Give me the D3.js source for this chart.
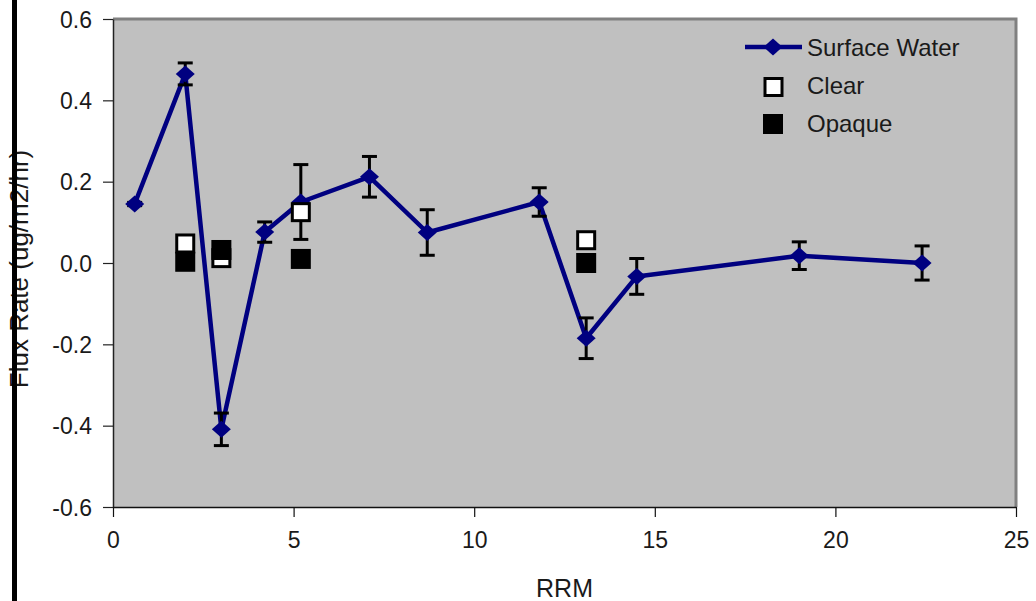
<!DOCTYPE html>
<html lang="en">
<head>
    <meta charset="UTF-8">
    <title>Flux Rate vs RRM</title>
    <style>
        body { margin: 0; background: #fff; }
        text { font-family: "Liberation Sans", Arial, sans-serif; fill: #1a1a1a; }
    </style>
    <script src="https://d3js.org/d3.v7.min.js"></script>
</head>
<body>
    <svg id="chart"></svg>

    <script>
        // Surface Water series
        const rrm = [0.6, 2.0, 3.0, 4.2, 5.2, 7.1, 8.7, 11.8, 13.1, 14.5, 19.0, 22.4];
        const surfaceWater = [0.145, 0.465, -0.409, 0.076, 0.15, 0.212, 0.075, 0.15, -0.185, -0.033, 0.018, 0.0];
        const surfaceErr = [0.004, 0.027, 0.04, 0.025, 0.092, 0.05, 0.056, 0.035, 0.05, 0.044, 0.034, 0.042];

        // Clear / Opaque series
        const clearX = [2.0, 3.0, 5.2, 13.1];
        const clearY = [0.048, 0.012, 0.125, 0.056];
        const opaqueX = [2.0, 3.0, 5.2, 13.1];
        const opaqueY = [0.003, 0.032, 0.01, 0.0];

        const xTicks = [0, 5, 10, 15, 20, 25];
        const yTicks = [-0.6, -0.4, -0.2, 0.0, 0.2, 0.4, 0.6];

        const width = 1036;
        const height = 601;
        const margin = {top: 19, right: 20, bottom: 94, left: 113};

        const svg = d3.select("#chart")
            .attr("width", width)
            .attr("height", height);

        const x = d3.scaleLinear().domain([0, 25]).range([margin.left, width - margin.right]);
        const y = d3.scaleLinear().domain([-0.6, 0.6]).range([height - margin.bottom, margin.top]);

        // plot area
        svg.append("rect")
            .attr("x", x(0)).attr("y", y(0.6))
            .attr("width", x(25) - x(0)).attr("height", y(-0.6) - y(0.6))
            .attr("fill", "#c0c0c0");

        // top and right frame
        svg.append("path")
            .attr("d", `M${x(0)},${y(0.6)}H${x(25)}V${y(-0.6)}`)
            .attr("fill", "none")
            .attr("stroke", "#808080")
            .attr("stroke-width", 3);

        // y axis
        const yAxis = svg.append("g")
            .attr("transform", `translate(${x(0)},0)`)
            .call(d3.axisLeft(y).tickValues(yTicks).tickSize(10).tickSizeOuter(0));
        yAxis.select(".domain").attr("stroke", "#222").attr("stroke-width", 1.5);
        yAxis.selectAll(".tick line").attr("stroke", "#222").attr("stroke-width", 1.2);
        yAxis.selectAll(".tick text")
            .attr("x", -21)
            .attr("dy", "0.36em")
            .attr("fill", "#1a1a1a")
            .style("font-family", "Liberation Sans, Arial, sans-serif")
            .style("font-size", "23px")
            .text(d => d3.format(".1f")(d).replace("−", "-"));

        // x axis
        const xAxis = svg.append("g")
            .attr("transform", `translate(0,${y(-0.6)})`)
            .call(d3.axisBottom(x).tickValues(xTicks).tickSize(10).tickSizeOuter(0));
        xAxis.select(".domain").attr("stroke", "#111").attr("stroke-width", 1.5);
        xAxis.selectAll(".tick line").attr("stroke", "#111").attr("stroke-width", 1.2);
        xAxis.selectAll(".tick text")
            .attr("y", 25)
            .attr("dy", "0.71em")
            .attr("fill", "#1a1a1a")
            .style("font-family", "Liberation Sans, Arial, sans-serif")
            .style("font-size", "23px");

        // axis titles
        svg.append("text")
            .attr("x", (x(0) + x(25)) / 2)
            .attr("y", 597)
            .attr("text-anchor", "middle")
            .style("font-size", "25px")
            .text("RRM");

        svg.append("text")
            .attr("transform", `translate(28,${(y(0.6) + y(-0.6)) / 2 + 6}) rotate(-90)`)
            .attr("text-anchor", "middle")
            .style("font-size", "26px")
            .text("Flux Rate (ug/m2/hr)");

        // thick black bar at the left edge
        svg.append("rect")
            .attr("x", 12).attr("y", 0)
            .attr("width", 5).attr("height", height)
            .attr("fill", "#000");

        const sw = rrm.map((r, i) => ({x: r, y: surfaceWater[i], e: surfaceErr[i]}));

        // line
        svg.append("path")
            .datum(sw)
            .attr("fill", "none")
            .attr("stroke", "#000080")
            .attr("stroke-width", 4.5)
            .attr("stroke-linejoin", "round")
            .attr("d", d3.line().x(d => x(d.x)).y(d => y(d.y)));

        // error bars
        const eb = svg.append("g")
            .attr("stroke", "#000")
            .attr("stroke-width", 3)
            .selectAll("g")
            .data(sw)
            .join("g");
        eb.append("line")
            .attr("x1", d => x(d.x)).attr("x2", d => x(d.x))
            .attr("y1", d => y(d.y + d.e)).attr("y2", d => y(d.y - d.e));
        eb.append("line")
            .attr("x1", d => x(d.x) - 7.5).attr("x2", d => x(d.x) + 7.5)
            .attr("y1", d => y(d.y + d.e)).attr("y2", d => y(d.y + d.e));
        eb.append("line")
            .attr("x1", d => x(d.x) - 7.5).attr("x2", d => x(d.x) + 7.5)
            .attr("y1", d => y(d.y - d.e)).attr("y2", d => y(d.y - d.e));

        const diamond = "M0,-8.5L9.5,0L0,8.5L-9.5,0Z";

        svg.append("g")
            .selectAll("path")
            .data(sw)
            .join("path")
            .attr("d", diamond)
            .attr("transform", d => `translate(${x(d.x)},${y(d.y)})`)
            .attr("fill", "#000080");

        // clear squares
        svg.append("g")
            .selectAll("rect")
            .data(clearX.map((c, i) => ({x: c, y: clearY[i]})))
            .join("rect")
            .attr("x", d => x(d.x) - 8.5).attr("y", d => y(d.y) - 8.5)
            .attr("width", 17).attr("height", 17)
            .attr("fill", "#fff")
            .attr("stroke", "#000")
            .attr("stroke-width", 3);

        // opaque squares
        svg.append("g")
            .selectAll("rect")
            .data(opaqueX.map((c, i) => ({x: c, y: opaqueY[i]})))
            .join("rect")
            .attr("x", d => x(d.x) - 10).attr("y", d => y(d.y) - 10)
            .attr("width", 20).attr("height", 20)
            .attr("fill", "#000");

        // legend
        const legend = svg.append("g");
        legend.append("line")
            .attr("x1", 745).attr("x2", 802)
            .attr("y1", 47).attr("y2", 47)
            .attr("stroke", "#000080").attr("stroke-width", 4.5);
        legend.append("path")
            .attr("d", diamond)
            .attr("transform", "translate(773,47)")
            .attr("fill", "#000080");
        legend.append("rect")
            .attr("x", 765).attr("y", 78.5).attr("width", 17).attr("height", 17)
            .attr("fill", "#fff").attr("stroke", "#000").attr("stroke-width", 3);
        legend.append("rect")
            .attr("x", 763).attr("y", 114).attr("width", 20).attr("height", 20)
            .attr("fill", "#000");
        const labels = ["Surface Water", "Clear", "Opaque"];
        legend.selectAll("text")
            .data(labels)
            .join("text")
            .attr("x", 807)
            .attr("y", (d, i) => 56 + i * 38)
            .style("font-size", "24px")
            .text(d => d);
    </script>
</body>
</html>
